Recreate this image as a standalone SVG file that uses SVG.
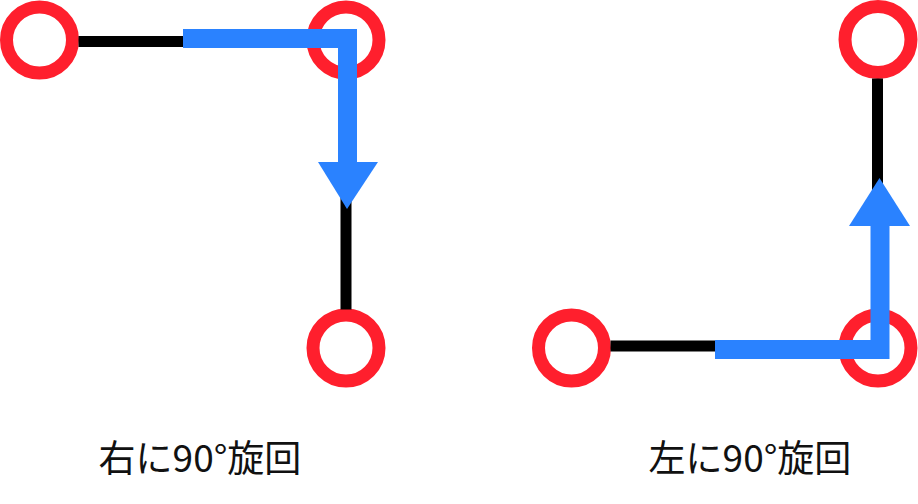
<svg xmlns="http://www.w3.org/2000/svg" width="918" height="504" viewBox="0 0 918 504">
<style>
.node{fill:none;stroke:#FF1F2D;stroke-width:13}
.edge{stroke:#000;stroke-width:11;fill:none}
.turn{stroke:#2A82FF;stroke-width:19;fill:none;stroke-linejoin:miter}
.head{fill:#2A82FF}
.label{font-family:"Noto Sans CJK JP","Noto Sans",sans-serif;font-size:37px;fill:#111;text-anchor:middle}
</style>
<rect width="918" height="504" fill="#fff"/>
<g id="n1"><circle class="node" cx="39.5" cy="40" r="33"/></g>
<g id="n2"><circle class="node" cx="346" cy="40" r="33"/></g>
<g id="n3"><circle class="node" cx="346" cy="348" r="33"/></g>
<g id="n4"><circle class="node" cx="571.5" cy="348" r="33"/></g>
<g id="n5"><circle class="node" cx="878" cy="348" r="33"/></g>
<g id="n6"><circle class="node" cx="878" cy="39.5" r="33"/></g>
<g id="connectors">
<line class="edge" x1="78.5" y1="41.5" x2="190" y2="41.5"/>
<line class="edge" x1="346" y1="195" x2="346" y2="309.5"/>
<line class="edge" x1="610.5" y1="346" x2="720" y2="346"/>
<line class="edge" x1="877.5" y1="78.5" x2="877.5" y2="190"/>
<path class="turn" d="M183,38.5 H347.5 V163"/>
<polygon class="head" points="318,162 378,162 347,209"/>
<path class="turn" d="M715,349.5 H880 V224"/>
<polygon class="head" points="849,226 910,226 879.5,178"/>
</g>
<g id="labels">
<text class="label" x="200" y="472">右に90°旋回</text>
<text class="label" x="750" y="472">左に90°旋回</text>
</g>
</svg>
